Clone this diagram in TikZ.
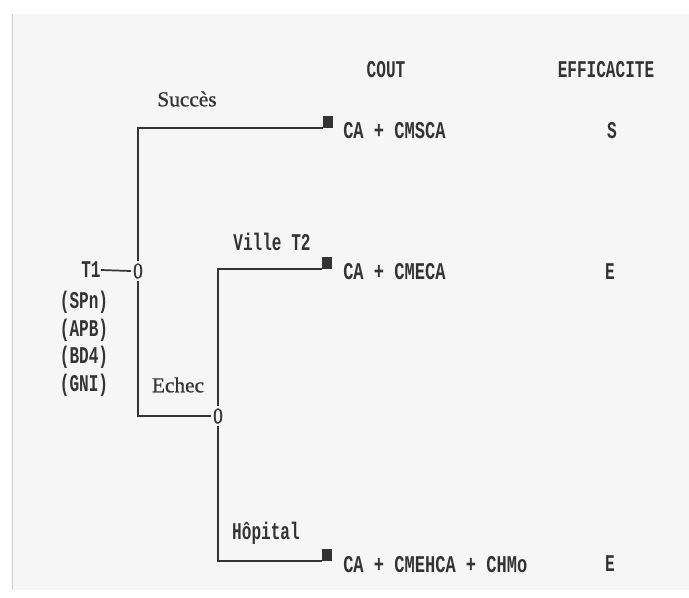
\documentclass[tikz,border=0pt]{standalone}
\usepackage{fontspec}
\newfontfamily\twlab[FakeStretch=0.67]{Liberation Mono}
\newfontfamily\twrow[FakeStretch=0.71]{Liberation Mono}
\newfontfamily\rmlab[FakeBold=0.8]{Liberation Serif}
\newfontfamily\zerofont[FakeStretch=0.85,FakeBold=1]{Liberation Serif}
\definecolor{ink}{HTML}{333333}
\definecolor{paper}{HTML}{F6F6F6}
\tikzset{
  lab/.style={inner sep=0pt, text=ink, font=\twlab\bfseries\fontsize{18}{20}\selectfont},
  rowtxt/.style={inner sep=0pt, anchor=west, text=ink, font=\twrow\bfseries\fontsize{18}{20}\selectfont},
  serlab/.style={inner sep=0pt, text=ink, font=\rmlab\fontsize{16}{18}\selectfont},
  chance/.style={inner sep=1.5pt, text=ink, font=\zerofont\fontsize{17}{19}\selectfont},
  leaf/.style={fill=ink, draw=none, minimum width=7pt, minimum height=9pt, inner sep=0pt, anchor=south west},
  edge/.style={draw=ink, line width=1.3pt}
}
\begin{document}
\begin{tikzpicture}[x=0.75pt,y=-0.75pt]
\useasboundingbox (0,0) rectangle (689,597);
\fill[white] (0,0) rectangle (689,597);
\fill[paper] (12,14) rectangle (689,590);
\draw[gray!40, line width=0.6pt] (12,14) -- (12,590);

% headers
\node[lab] (cout) at (386,70) {COUT};
\node[lab] (eff) at (606,70) {EFFICACITE};

% root
\node[lab] (t1) at (91,270) {T1};
\node[chance] (c0) at (138,271) {0};
\node[lab] (spn) at (84,302) {(SPn)};
\node[lab] (apb) at (84,330) {(APB)};
\node[lab] (bd4) at (84,357) {(BD4)};
\node[lab] (gni) at (84,385) {(GNI)};

% second chance node
\node[chance] (c1) at (218,416) {0};

% leaves
\node[leaf] (sq1) at (323,128) {};
\node[leaf] (sq2) at (322,269) {};
\node[leaf] (sq3) at (322,561) {};

% branch labels
\node[serlab] (succ) at (187,99) {Succès};
\node[serlab] (echec) at (178,385) {Echec};
\node[lab] (ville) at (272,242) {Ville T2};
\node[lab] (hop) at (266,533) {Hôpital};

% outcomes
\node[rowtxt] (o1) at (343,131) {CA + CMSCA};
\node[rowtxt] (o2) at (343,272) {CA + CMECA};
\node[rowtxt] (o3) at (343,565) {CA + CMEHCA + CHMo};
\node[lab] (e1) at (612,131) {S};
\node[lab] (e2) at (610,272) {E};
\node[lab] (e3) at (610,564) {E};

% connectors
\draw[edge] (t1.east) -- (c0.west);
\draw[edge] (c0.north) |- (sq1.south west);
\draw[edge] (c0.south) |- (c1.west);
\draw[edge] (c1.north) |- (sq2.south west);
\draw[edge] (c1.south) |- (sq3.south west);
\end{tikzpicture}
\end{document}
